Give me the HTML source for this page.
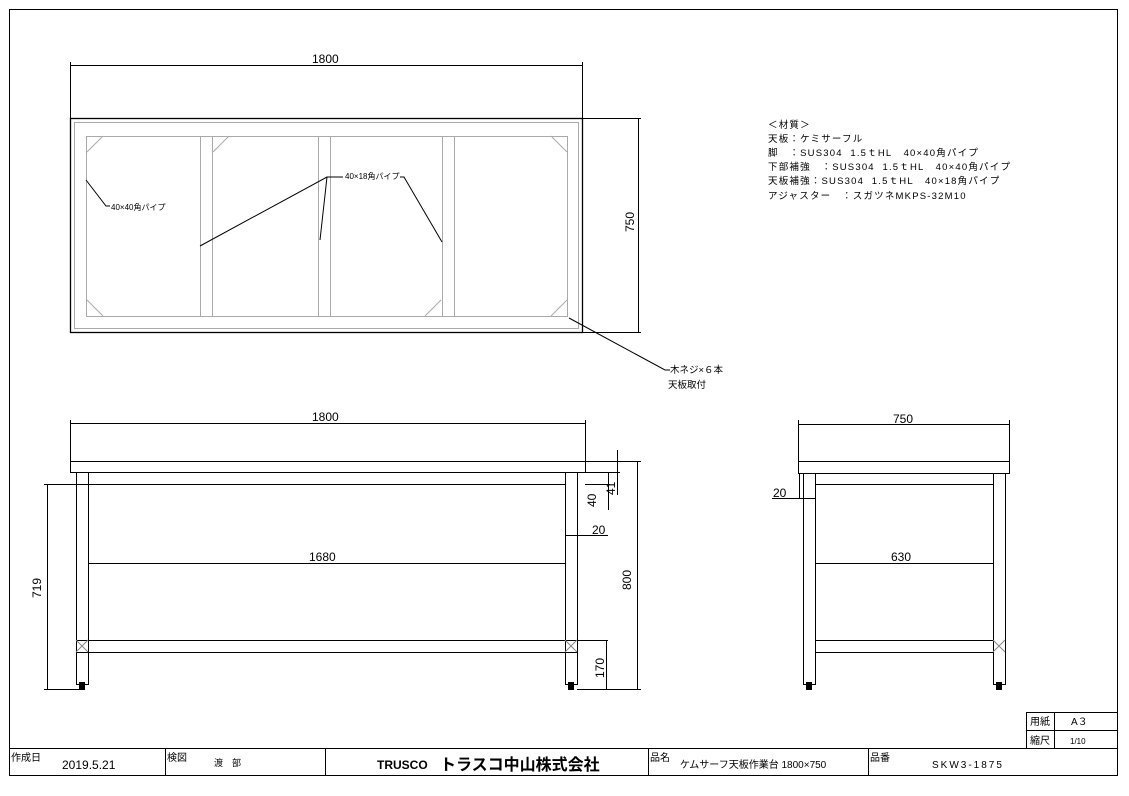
<!DOCTYPE html>
<html><head><meta charset="utf-8"><style>
html,body{margin:0;padding:0;background:#fff;width:1129px;height:796px;overflow:hidden}
svg{display:block}
text{font-family:"Liberation Sans","Noto Sans CJK JP",sans-serif;fill:#000}
</style></head><body>
<svg width="1129" height="796" viewBox="0 0 1129 796" xmlns="http://www.w3.org/2000/svg">
<g fill="none" stroke="#000" stroke-width="1">
<rect x="9.5" y="9.5" width="1108" height="766"/>
<line x1="9" y1="748.5" x2="1118" y2="748.5"/>
<line x1="165.5" y1="748" x2="165.5" y2="776"/>
<line x1="325.5" y1="748" x2="325.5" y2="776"/>
<line x1="648.5" y1="748" x2="648.5" y2="776"/>
<line x1="868.5" y1="748" x2="868.5" y2="776"/>
<rect x="1026.5" y="712.5" width="91" height="36"/>
<line x1="1026" y1="730.5" x2="1118" y2="730.5"/>
<line x1="1054.5" y1="712" x2="1054.5" y2="748"/>

<line x1="70.5" y1="62" x2="70.5" y2="118"/>
<line x1="582.5" y1="62" x2="582.5" y2="118"/>
<line x1="70" y1="65.5" x2="582" y2="65.5"/>
<rect x="70.5" y="118.5" width="512" height="214" stroke-width="1.3"/>
<line x1="582" y1="118.5" x2="641" y2="118.5"/>
<line x1="582" y1="332.5" x2="641" y2="332.5"/>
<line x1="638.5" y1="118" x2="638.5" y2="332"/>
</g>
<g fill="none" stroke="#aaa" stroke-width="1">
<rect x="74.5" y="122.5" width="504" height="206"/>
<rect x="86.5" y="136.5" width="481" height="180"/>
<line x1="200.5" y1="136" x2="200.5" y2="316"/><line x1="212.5" y1="136" x2="212.5" y2="316"/>
<line x1="318.5" y1="136" x2="318.5" y2="316"/><line x1="330.5" y1="136" x2="330.5" y2="316"/>
<line x1="442.5" y1="136" x2="442.5" y2="316"/><line x1="454.5" y1="136" x2="454.5" y2="316"/>
<path d="M87 152 L103 136 M213 152 L229 136 M551 136 L567 152 M87 300 L103 316 M551 316 L567 300 M425 316 L441 300"/>
</g>
<g fill="none" stroke="#000" stroke-width="1">
<path d="M86 180 L106 206 L110 206"/>
<path d="M200 246 L327 177 L343 177 M327 177 L320 240 M400 177 L404 177 L442 242"/>
<path d="M569 318 L665 370 L670 370"/>

<line x1="70.5" y1="420" x2="70.5" y2="461"/>
<line x1="585.5" y1="420" x2="585.5" y2="461"/>
<line x1="70" y1="423.5" x2="585" y2="423.5"/>
<rect x="70.5" y="461.5" width="515" height="11"/>
<rect x="76.5" y="472.5" width="12" height="212"/>
<rect x="565.5" y="472.5" width="12" height="212"/>
<line x1="88" y1="484.5" x2="565" y2="484.5"/>
<line x1="44" y1="484.5" x2="88" y2="484.5"/>
<line x1="88" y1="563.5" x2="565" y2="563.5"/>
<rect x="76.5" y="640.5" width="501" height="12"/>
<path d="M76 640 L88 652 M88 640 L76 652 M565 640 L577 652 M577 640 L565 652" stroke="#888"/>
<line x1="47.5" y1="485" x2="47.5" y2="689"/>
<line x1="44" y1="689.5" x2="80" y2="689.5"/>
<line x1="585" y1="461.5" x2="641" y2="461.5"/>
<line x1="585" y1="472.5" x2="620" y2="472.5"/>
<line x1="585" y1="484.5" x2="610" y2="484.5"/>
<line x1="617.5" y1="450" x2="617.5" y2="495"/>
<line x1="608.5" y1="472" x2="608.5" y2="510"/>
<line x1="577.5" y1="486" x2="577.5" y2="535"/>
<line x1="565" y1="535.5" x2="608" y2="535.5"/>
<line x1="637.5" y1="461" x2="637.5" y2="689"/>
<line x1="577" y1="640.5" x2="608" y2="640.5"/>
<line x1="577" y1="689.5" x2="641" y2="689.5"/>
<line x1="606.5" y1="640" x2="606.5" y2="689"/>

<line x1="798.5" y1="420" x2="798.5" y2="461"/>
<line x1="1009.5" y1="420" x2="1009.5" y2="461"/>
<line x1="798" y1="424.5" x2="1009" y2="424.5"/>
<rect x="798.5" y="461.5" width="211" height="12"/>
<rect x="803.5" y="473.5" width="12" height="211"/>
<rect x="993.5" y="473.5" width="12" height="211"/>
<line x1="815" y1="484.5" x2="993" y2="484.5"/>
<line x1="815" y1="563.5" x2="993" y2="563.5"/>
<rect x="815.5" y="640.5" width="178" height="12"/>
<path d="M993 640 L1005 652 M1005 640 L993 652" stroke="#888"/>
<line x1="772" y1="498.5" x2="815" y2="498.5"/>
<line x1="799.5" y1="473" x2="799.5" y2="498"/>
</g>
<g fill="#000">
<rect x="79" y="682" width="6" height="8"/><rect x="568" y="682" width="6" height="8"/>
<rect x="806" y="682" width="6" height="8"/><rect x="996" y="682" width="6" height="8"/>
</g>
<g font-size="12">
<text x="312" y="63">1800</text>
<text x="312" y="421">1800</text>
<text x="309" y="561">1680</text>
<text x="893" y="423">750</text>
<text x="891" y="561">630</text>
<text x="773" y="497">20</text>
<text x="592" y="534">20</text>
<text transform="translate(634,232) rotate(-90)">750</text>
<text transform="translate(631,590) rotate(-90)">800</text>
<text transform="translate(41,598) rotate(-90)">719</text>
<text transform="translate(596,507) rotate(-90)">40</text>
<text transform="translate(615,495) rotate(-90)">41</text>
<text transform="translate(604,678) rotate(-90)">170</text>
</g>
<g font-size="8">
<text x="111" y="210">40×40角パイプ</text>
<text x="345" y="179">40×18角パイプ</text>
</g>
<g font-size="9.5">
<text x="670" y="373">木ネジ×６本</text>
<text x="668" y="388">天板取付</text>
</g>
<g font-size="9.5" letter-spacing="1.2">
<text x="768" y="128">＜材質＞</text>
<text x="768" y="142">天板：ケミサーフル</text>
<text x="768" y="156" xml:space="preserve">脚　：SUS304  1.5ｔHL   40×40角パイプ</text>
<text x="768" y="170" xml:space="preserve">下部補強　：SUS304  1.5ｔHL   40×40角パイプ</text>
<text x="768" y="184" xml:space="preserve">天板補強：SUS304  1.5ｔHL   40×18角パイプ</text>
<text x="768" y="199">アジャスター　：スガツネMKPS-32M10</text>
</g>
<g font-size="10">
<text x="1030" y="725">用紙</text><text x="1071" y="725">A３</text>
<text x="1030" y="744">縮尺</text><text x="1070" y="744" font-size="8">1/10</text>
<text x="11" y="761">作成日</text>
<text x="167" y="761">検図</text>
<text x="650" y="761">品名</text>
<text x="870" y="761">品番</text>
<text x="214" y="766" font-size="9">渡　部</text>
<text x="680" y="768">ケムサーフ天板作業台  1800×750</text>
<text x="932" y="768" letter-spacing="2">SKW3-1875</text>
</g>
<text x="62" y="769" font-size="12">2019.5.21</text>
<text x="377" y="769" font-size="12" font-weight="bold">TRUSCO</text>
<text x="440" y="770" font-size="16" font-weight="bold">トラスコ中山株式会社</text>
</svg>
</body></html>
